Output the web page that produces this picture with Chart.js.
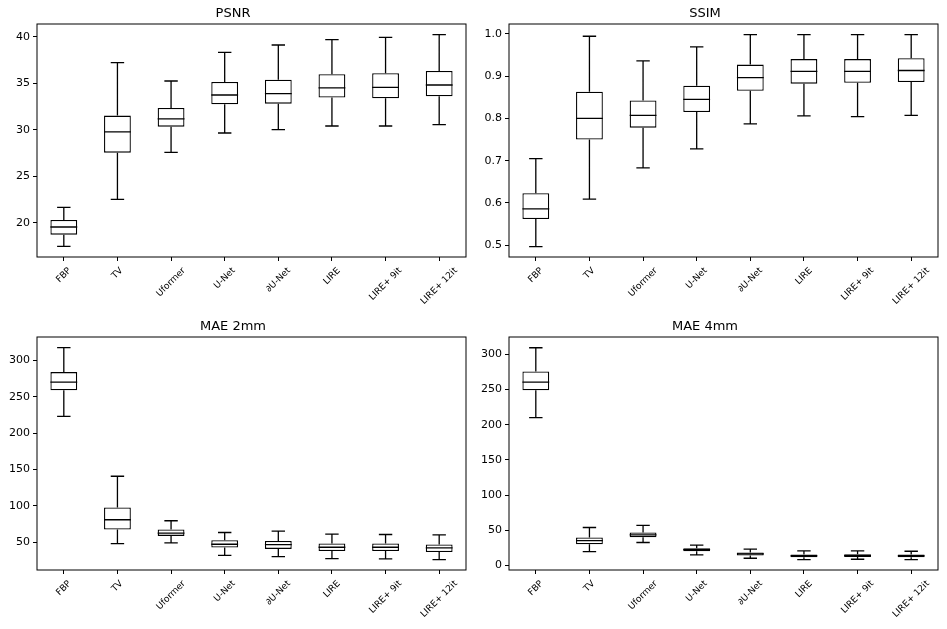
<!DOCTYPE html>
<html>
<head>
<meta charset="utf-8">
<script src="https://cdn.jsdelivr.net/npm/chart.js@4.4.0/dist/chart.umd.min.js"></script>
<style>
  body { margin: 0; background: #fff; }
  #wrap { position: relative; width: 947px; height: 629px; }
  canvas { position: absolute; }
</style>
</head>
<body>
<div id="wrap">
  <canvas id="psnr" width="472" height="313" style="left:0;top:0"></canvas>
  <canvas id="ssim" width="472" height="313" style="left:472px;top:0"></canvas>
  <canvas id="mae2" width="472" height="313" style="left:0;top:313px"></canvas>
  <canvas id="mae4" width="472" height="313" style="left:472px;top:313px"></canvas>
</div>
<script>
const categories = ['FBP', 'TV', 'Uformer', 'U-Net', '∂U-Net', 'LIRE', 'LIRE+ 9it', 'LIRE+ 12it'];

// PSNR
const psnrLow  = [17.45, 22.51, 27.58, 29.66, 30.02, 30.41, 30.41, 30.56];
const psnrQ1   = [18.71, 27.54, 30.34, 32.75, 32.82, 33.47, 33.39, 33.61];
const psnrMed  = [19.53, 29.77, 31.17, 33.75, 33.90, 34.51, 34.58, 34.83];
const psnrQ3   = [20.29, 31.53, 32.35, 35.15, 35.40, 35.98, 36.09, 36.34];
const psnrHigh = [21.65, 37.24, 35.26, 38.35, 39.14, 39.71, 39.96, 40.25];
const psnrTicks = [20, 25, 30, 35, 40];
const psnrRange = [16.3, 41.4];

// SSIM
const ssimLow  = [0.497, 0.609, 0.683, 0.728, 0.787, 0.806, 0.804, 0.807];
const ssimQ1   = [0.562, 0.750, 0.778, 0.815, 0.865, 0.882, 0.884, 0.886];
const ssimMed  = [0.586, 0.800, 0.807, 0.845, 0.896, 0.911, 0.911, 0.913];
const ssimQ3   = [0.623, 0.863, 0.842, 0.877, 0.927, 0.940, 0.940, 0.942];
const ssimHigh = [0.705, 0.994, 0.936, 0.969, 0.998, 0.998, 0.998, 0.998];
const ssimTicks = [0.5, 0.6, 0.7, 0.8, 0.9, 1.0];
const ssimRange = [0.4724, 1.0229];

// MAE 2mm
const mae2Low  = [223.1, 48.2, 49.1, 32.0, 30.2, 27.4, 27.0, 26.1];
const mae2Q1   = [259.0, 67.5, 58.7, 42.6, 40.8, 38.0, 38.0, 36.6];
const mae2Med  = [270.1, 80.9, 62.4, 47.2, 46.8, 43.1, 43.1, 42.2];
const mae2Q3   = [283.9, 97.9, 67.5, 52.8, 51.8, 48.2, 48.2, 46.8];
const mae2High = [317.5, 140.7, 79.5, 63.4, 65.2, 61.0, 60.6, 60.1];
const mae2Ticks = [50, 100, 150, 200, 250, 300];
const mae2Range = [11.8, 332.2];

// MAE 4mm
const mae4Low  = [210.0, 19.5, 32.4, 14.8, 10.0, 8.1, 8.6, 8.1];
const mae4Q1   = [249.0, 30.0, 40.0, 20.0, 13.8, 11.4, 11.9, 11.4];
const mae4Med  = [260.5, 35.2, 43.3, 22.4, 16.2, 13.3, 13.8, 13.3];
const mae4Q3   = [275.7, 39.5, 46.7, 24.3, 18.1, 15.2, 15.7, 15.2];
const mae4High = [309.5, 53.8, 56.7, 28.6, 22.9, 20.5, 20.5, 20.0];
const mae4Ticks = [0, 50, 100, 150, 200, 250, 300];
const mae4Range = [-6.7, 324.8];

Chart.defaults.font.family = '"DejaVu Sans", sans-serif';
Chart.defaults.color = '#000';

// whiskers, caps, medians, frame and rotated x labels
function boxExtras(low, med, high, q1, q3) {
  return {
    id: 'boxExtras',
    afterDatasetsDraw(chart) {
      const { ctx, chartArea: a, scales: { x, y } } = chart;
      const slot = a.width / categories.length;
      ctx.save();
      ctx.strokeStyle = '#000';
      ctx.lineWidth = 1.3;
      ctx.beginPath();
      categories.forEach((c, i) => {
        const cx = x.getPixelForValue(i);
        const yHi = y.getPixelForValue(high[i]);
        const yLo = y.getPixelForValue(low[i]);
        const yQ1 = y.getPixelForValue(q1[i]);
        const yQ3 = y.getPixelForValue(q3[i]);
        const yMed = y.getPixelForValue(med[i]);
        ctx.moveTo(cx, yQ3); ctx.lineTo(cx, yHi);
        ctx.moveTo(cx, yQ1); ctx.lineTo(cx, yLo);
        ctx.moveTo(cx - slot * 0.125, yHi); ctx.lineTo(cx + slot * 0.125, yHi);
        ctx.moveTo(cx - slot * 0.125, yLo); ctx.lineTo(cx + slot * 0.125, yLo);
        ctx.moveTo(cx - slot * 0.25, yMed); ctx.lineTo(cx + slot * 0.25, yMed);
      });
      ctx.stroke();

      ctx.lineWidth = 1;
      ctx.strokeRect(a.left, a.top, a.width, a.height);

      ctx.fillStyle = '#000';
      ctx.font = '9px "DejaVu Sans"';
      ctx.textAlign = 'center';
      ctx.textBaseline = 'middle';
      categories.forEach((c, i) => {
        const cx = x.getPixelForValue(i);
        const w = ctx.measureText(c).width;
        const d = (w + 10.5) * Math.SQRT1_2;
        ctx.save();
        ctx.translate(cx, a.bottom + 8.5 + d / 2);
        ctx.rotate(-Math.PI / 4);
        ctx.fillText(c, 0, 0);
        ctx.restore();
      });
      ctx.restore();
    }
  };
}

function makeBoxChart(id, title, low, q1, med, q3, high, tickVals, range, fmt) {
  const ctx = document.getElementById(id).getContext('2d');
  new Chart(ctx, {
    type: 'bar',
    data: {
      labels: categories,
      datasets: [{
        data: categories.map((c, i) => [q1[i], q3[i]]),
        backgroundColor: '#fff',
        borderColor: '#000',
        borderWidth: 1.3,
        borderSkipped: false,
        categoryPercentage: 1,
        barPercentage: 0.5
      }]
    },
    options: {
      responsive: false,
      animation: false,
      devicePixelRatio: 1,
      layout: { padding: { left: 0, right: 6, top: 0, bottom: 0 } },
      plugins: {
        legend: { display: false },
        tooltip: { enabled: false },
        title: {
          display: true,
          text: title,
          color: '#000',
          font: { size: 13, weight: 'normal', lineHeight: 1.2 },
          padding: { top: 6, bottom: 2.4 }
        }
      },
      scales: {
        x: {
          type: 'category',
          offset: true,
          border: { display: false },
          grid: { offset: false, drawOnChartArea: false, drawTicks: true, tickLength: 4, tickColor: '#000', tickWidth: 1 },
          ticks: { display: false },
          afterFit: (scale) => { scale.height = 56; }
        },
        y: {
          min: range[0],
          max: range[1],
          border: { display: false },
          grid: { drawOnChartArea: false, drawTicks: true, tickLength: 4, tickColor: '#000', tickWidth: 1 },
          ticks: { padding: 3, color: '#000', font: { size: 11 }, callback: (v) => fmt(v) },
          afterBuildTicks: (scale) => { scale.ticks = tickVals.map((v) => ({ value: v })); },
          afterFit: (scale) => { scale.width = 37; }
        }
      }
    },
    plugins: [boxExtras(low, med, high, q1, q3)]
  });
}

makeBoxChart('psnr', 'PSNR', psnrLow, psnrQ1, psnrMed, psnrQ3, psnrHigh, psnrTicks, psnrRange, (v) => String(v));
makeBoxChart('ssim', 'SSIM', ssimLow, ssimQ1, ssimMed, ssimQ3, ssimHigh, ssimTicks, ssimRange, (v) => v.toFixed(1));
makeBoxChart('mae2', 'MAE 2mm', mae2Low, mae2Q1, mae2Med, mae2Q3, mae2High, mae2Ticks, mae2Range, (v) => String(v));
makeBoxChart('mae4', 'MAE 4mm', mae4Low, mae4Q1, mae4Med, mae4Q3, mae4High, mae4Ticks, mae4Range, (v) => String(v));
</script>
</body>
</html>
